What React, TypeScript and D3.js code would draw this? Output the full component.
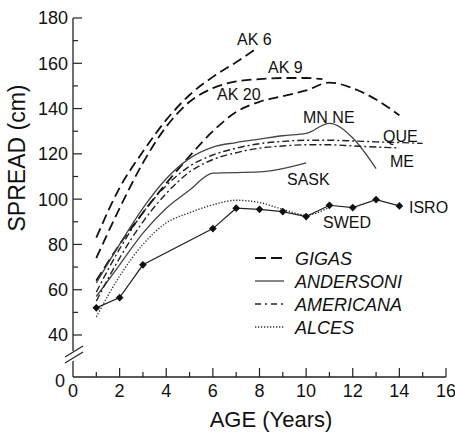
import React from "react";
import * as d3 from "d3";

// ---- data (age in years, spread in cm) ----
const ak6Ages = [1, 2, 3, 4, 5, 6, 7, 7.8];
const ak6Vals = [83, 105, 121, 135, 146, 154, 160.5, 166];

const ak9Ages = [1, 2, 3, 4, 5, 6, 7, 8, 9, 10, 10.7];
const ak9Vals = [74, 96, 116, 132, 143, 149, 152, 153, 153.5, 153.5, 153];

const ak20Ages = [1, 2, 3, 4, 5, 6, 7, 8, 9, 10, 11, 12, 13, 14];
const ak20Vals = [64, 80, 94, 107, 119, 130, 138.5, 143, 145.5, 148, 151.5, 149, 144, 137];

const mnneAges = [1, 2, 3, 4, 5, 6, 7, 8, 9, 10, 11, 12, 13];
const mnneVals = [63, 80, 96, 109, 118, 123, 125, 126.5, 128, 129, 133.5, 127, 113.5];

const saskAges = [1, 2, 3, 4, 5, 6, 8, 10];
const saskVals = [57, 71, 85, 96, 104, 111.5, 112, 116];

const queAges = [1, 2, 3, 4, 5, 6, 7, 8, 9, 10, 11, 12, 13, 14, 15];
const queVals = [59, 78, 94, 106, 114.5, 119.5, 122.5, 124.5, 125.5, 126, 126, 125.7, 125.3, 125, 124.6];

const meAges = [1, 2, 3, 4, 5, 6, 7, 8, 9, 10, 11, 12, 13, 14];
const meVals = [55, 74, 90, 102.5, 112, 117.5, 120.5, 122.5, 123.5, 124, 124, 123.5, 123, 122.6];

const swedAges = [1, 2, 3, 4, 5, 6, 7, 8, 9, 10, 11];
const swedVals = [48, 66, 80, 89.5, 94, 97.5, 99.5, 98.5, 95.5, 93, 96.5];

const isroAges = [1, 2, 3, 6, 7, 8, 9, 10, 11, 12, 13, 14];
const isroVals = [52, 56.5, 71, 87, 96, 95.5, 94.5, 92.3, 97.3, 96.3, 99.8, 97];

const yTickValues = [0, 40, 60, 80, 100, 120, 140, 160, 180];
const yMinorValues = [50, 70, 90, 110, 130, 150, 170];
const xTickValues = [0, 2, 4, 6, 8, 10, 12, 14, 16];
const xMinorValues = [1, 3, 5, 7, 9, 11, 13, 15];

const legendLabels = ["GIGAS", "ANDERSONI", "AMERICANA", "ALCES"];

// ---- styles ----
const FONT = "'Liberation Sans', Arial, Helvetica, sans-serif";
const styles: Record<string, { stroke: string; width: number; dash?: string }> = {
  GIGAS: { stroke: "#111", width: 1.8, dash: "10,5" },
  ANDERSONI: { stroke: "#444", width: 1.3 },
  AMERICANA: { stroke: "#222", width: 1.4, dash: "7,3,2,3" },
  ALCES: { stroke: "#333", width: 1.4, dash: "1.3,1.7" },
};

export default function App() {
  const W = 455;
  const H = 435;
  const x = d3.scaleLinear().domain([0, 16]).range([73, 446]);
  const y = d3.scaleLinear().domain([0, 40, 180]).range([377, 335, 18]);

  const smooth = d3
    .line<[number, number]>()
    .x((d) => x(d[0]))
    .y((d) => y(d[1]))
    .curve(d3.curveMonotoneX);
  const straight = d3
    .line<[number, number]>()
    .x((d) => x(d[0]))
    .y((d) => y(d[1]));

  const zip = (a: number[], b: number[]) => a.map((v, i) => [v, b[i]] as [number, number]);

  const series = [
    { key: "ak6", d: zip(ak6Ages, ak6Vals), s: styles.GIGAS, gen: smooth },
    { key: "ak9", d: zip(ak9Ages, ak9Vals), s: styles.GIGAS, gen: smooth },
    { key: "ak20", d: zip(ak20Ages, ak20Vals), s: styles.GIGAS, gen: smooth },
    { key: "mnne", d: zip(mnneAges, mnneVals), s: styles.ANDERSONI, gen: smooth },
    { key: "sask", d: zip(saskAges, saskVals), s: styles.ANDERSONI, gen: smooth },
    { key: "que", d: zip(queAges, queVals), s: styles.AMERICANA, gen: smooth },
    { key: "me", d: zip(meAges, meVals), s: styles.AMERICANA, gen: smooth },
    { key: "swed", d: zip(swedAges, swedVals), s: styles.ALCES, gen: smooth },
  ];
  const isro = zip(isroAges, isroVals);
  const diamond = d3.symbol().type(d3.symbolSquare).size(30)() as string;

  const axisX0 = x(0);
  const axisY0 = y(0);

  const labels = [
    { t: "AK 6", x: 237, y: 45 },
    { t: "AK 9", x: 268, y: 73 },
    { t: "AK 20", x: 217, y: 100 },
    { t: "MN NE", x: 303, y: 123 },
    { t: "QUE", x: 383, y: 142 },
    { t: "ME", x: 390, y: 167 },
    { t: "SASK", x: 287, y: 185 },
    { t: "ISRO", x: 409, y: 213 },
    { t: "SWED", x: 323, y: 228 },
  ];

  return (
    <svg
      width={W}
      height={H}
      style={{ position: "absolute", left: 0, top: 0, background: "#fff" }}
      fontFamily={FONT}
    >
      <rect width={W} height={H} fill="#fff" />
      {/* y axis */}
      <line x1={axisX0} x2={axisX0} y1={y(180)} y2={351} stroke="#222" strokeWidth={1.3} />
      <line x1={axisX0} x2={axisX0} y1={361} y2={axisY0} stroke="#222" strokeWidth={1.3} />
      <line x1={65} y1={357} x2={83} y2={346} stroke="#222" strokeWidth={1.2} />
      <line x1={65} y1={363} x2={83} y2={352} stroke="#222" strokeWidth={1.2} />
      {yTickValues.filter((v) => v > 0).map((v) => (
        <line key={"yt" + v} x1={axisX0} x2={axisX0 + 9} y1={y(v)} y2={y(v)} stroke="#222" strokeWidth={1.2} />
      ))}
      {yMinorValues.map((v) => (
        <line key={"ym" + v} x1={axisX0} x2={axisX0 + 5} y1={y(v)} y2={y(v)} stroke="#222" strokeWidth={1.2} />
      ))}
      {yTickValues.map((v) => (
        <text
          key={"yl" + v}
          x={v === 0 ? 65 : 68}
          y={v === 0 ? y(v) + 4 : y(v)}
          dy="0.36em"
          textAnchor="end"
          fontSize={18}
          fill="#111"
        >
          {v}
        </text>
      ))}
      {/* x axis */}
      <line x1={axisX0} x2={x(16)} y1={axisY0} y2={axisY0} stroke="#222" strokeWidth={1.3} />
      {xTickValues.filter((v) => v > 0).map((v) => (
        <line key={"xt" + v} x1={x(v)} x2={x(v)} y1={axisY0} y2={axisY0 - 9} stroke="#222" strokeWidth={1.2} />
      ))}
      {xMinorValues.map((v) => (
        <line key={"xm" + v} x1={x(v)} x2={x(v)} y1={axisY0} y2={axisY0 - 5} stroke="#222" strokeWidth={1.2} />
      ))}
      {xTickValues.map((v) => (
        <text key={"xl" + v} x={x(v)} y={397} textAnchor="middle" fontSize={18} fill="#111">
          {v}
        </text>
      ))}
      {/* axis titles */}
      <text x={271} y={427} textAnchor="middle" fontSize={22} fill="#111">
        AGE (Years)
      </text>
      <text
        transform={`translate(25,158) rotate(-90)`}
        textAnchor="middle"
        fontSize={23}
        fill="#111"
      >
        SPREAD (cm)
      </text>
      {/* series */}
      {series.map((sr) => (
        <path
          key={sr.key}
          d={sr.gen(sr.d) as string}
          fill="none"
          stroke={sr.s.stroke}
          strokeWidth={sr.s.width}
          strokeDasharray={sr.s.dash}
        />
      ))}
      <path d={straight(isro) as string} fill="none" stroke="#222" strokeWidth={1.2} />
      {isro.map((p, i) => (
        <path key={"dm" + i} d={diamond} transform={`translate(${x(p[0])},${y(p[1])}) rotate(45)`} fill="#111" />
      ))}
      {/* labels */}
      {labels.map((l) => (
        <text key={l.t} x={l.x} y={l.y} fontSize={16} fill="#111">
          {l.t}
        </text>
      ))}
      {/* legend */}
      {legendLabels.map((lab, i) => {
        const s = styles[lab];
        const ly = 258 + i * 23;
        return (
          <g key={lab}>
            <line
              x1={255}
              x2={284}
              y1={ly}
              y2={ly}
              stroke={s.stroke}
              strokeWidth={s.width}
              strokeDasharray={lab === "GIGAS" ? "11,5" : lab === "AMERICANA" ? "6,4,2,4" : s.dash}
            />
            <text x={295} y={ly + 6.5} fontSize={18} fontStyle="italic" fill="#111">
              {lab}
            </text>
          </g>
        );
      })}
    </svg>
  );
}
